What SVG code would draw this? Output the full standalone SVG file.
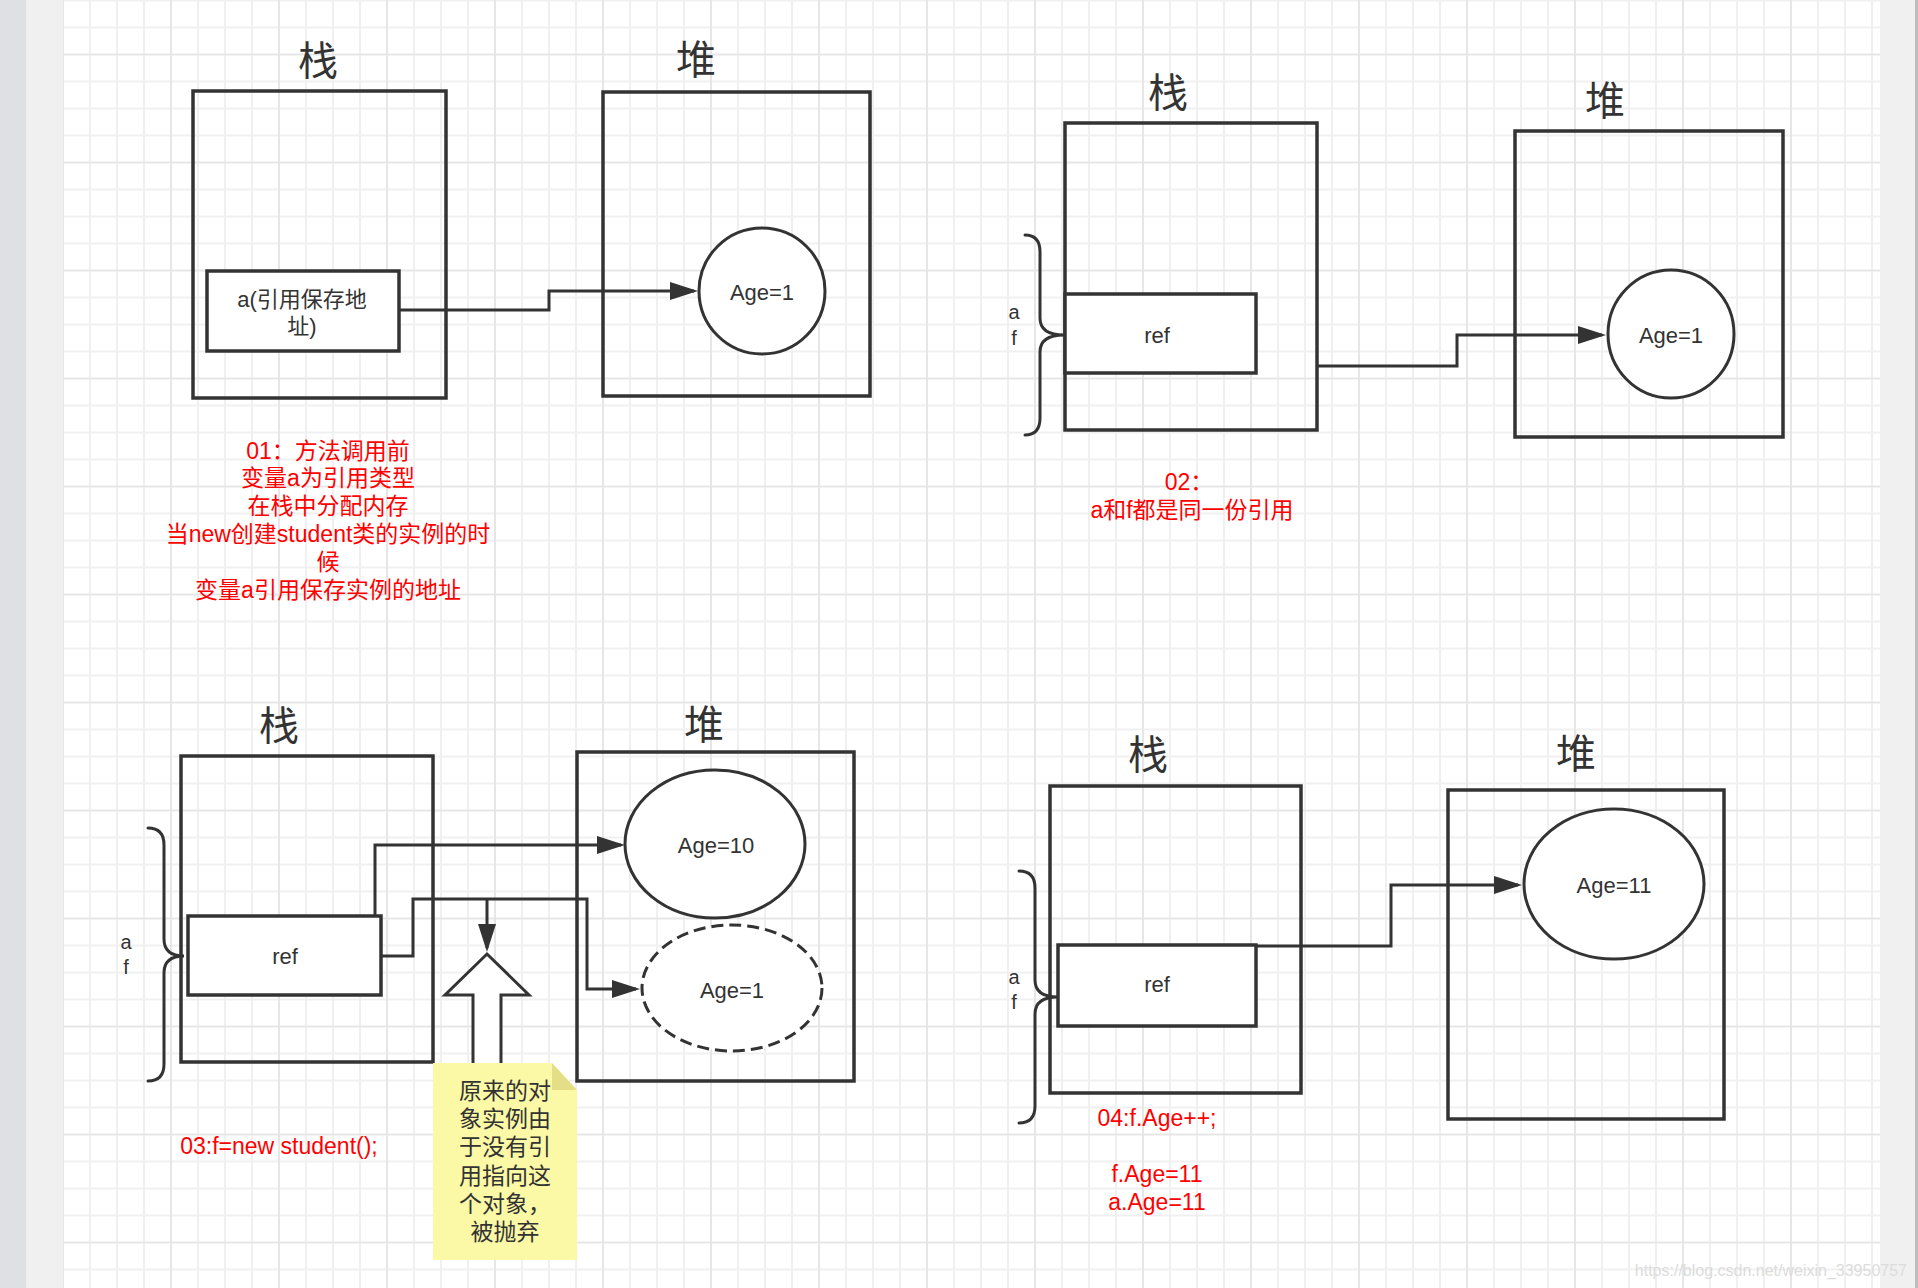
<svg xmlns="http://www.w3.org/2000/svg" width="1918" height="1288" viewBox="0 0 1918 1288">
<defs>
<style>
.box{fill:none;stroke:#333;stroke-width:3.5}
.inner{fill:#fff;stroke:#333;stroke-width:3.5}
.obj{fill:#fff;stroke:#333;stroke-width:3}
.dash{fill:#fff;stroke:#333;stroke-width:3;stroke-dasharray:12 6}
.conn{fill:none;stroke:#333;stroke-width:3;marker-end:url(#arr)}
.brace{fill:none;stroke:#333;stroke-width:3;stroke-linecap:round}
text{font-family:"Liberation Sans","Noto Sans CJK SC",sans-serif;text-anchor:middle;dominant-baseline:central}
.title{font-family:"Noto Sans CJK SC",sans-serif;font-size:40px;fill:#333}
.lbl{font-size:22px;fill:#333}
.af{font-size:20px;fill:#333}
.red{font-size:23px;fill:#ff0000}
.note{font-size:23px;fill:#333}
</style>
<marker id="arr" viewBox="0 0 28 18" refX="24" refY="9" markerWidth="28" markerHeight="18" markerUnits="userSpaceOnUse" orient="auto">
<path d="M0,0 L28,9 L0,18 z" fill="#333"/>
</marker>
<pattern id="grid" x="62" y="53.5" width="108" height="108" patternUnits="userSpaceOnUse">
<rect x="0" y="0" width="108" height="108" fill="#fff"/>
<rect x="27" y="0" width="2" height="108" fill="#f0f0f0"/>
<rect x="54" y="0" width="2" height="108" fill="#f0f0f0"/>
<rect x="81" y="0" width="2" height="108" fill="#f0f0f0"/>
<rect x="0" y="27" width="108" height="2" fill="#f0f0f0"/>
<rect x="0" y="54" width="108" height="2" fill="#f0f0f0"/>
<rect x="0" y="81" width="108" height="2" fill="#f0f0f0"/>
<rect x="0" y="0" width="2" height="108" fill="#e6e6e6"/>
<rect x="0" y="0" width="108" height="2" fill="#e6e6e6"/>
</pattern>
</defs>

<g id="background">
<rect x="0" y="0" width="1918" height="1288" fill="#f0f0f0"/>
<rect x="0" y="0" width="26" height="1288" fill="#dfe0e4"/>
<rect x="63" y="0" width="1817" height="1288" fill="url(#grid)"/>
<rect x="1915" y="0" width="3" height="1288" fill="#bdbdbd"/>
</g>

<!-- Panel 1 -->
<g id="p1-stack">
<text class="title" x="318" y="58">栈</text>
<rect class="box" x="193" y="91" width="253" height="307"/>
</g>
<g id="p1-heap">
<text class="title" x="696" y="57">堆</text>
<rect class="box" x="603" y="92" width="267" height="304"/>
</g>
<g id="p1-ref">
<rect class="inner" x="207" y="271" width="192" height="80"/>
<text class="lbl" x="302" y="299">a(引用保存地</text>
<text class="lbl" x="302" y="326">址)</text>
</g>
<g id="p1-obj">
<ellipse class="obj" cx="762" cy="291" rx="63" ry="63"/>
<text class="lbl" x="762" y="292">Age=1</text>
</g>
<g id="p1-note">
<text class="red" x="328" y="451">01：方法调用前</text>
<text class="red" x="328" y="478">变量a为引用类型</text>
<text class="red" x="328" y="506">在栈中分配内存</text>
<text class="red" x="328" y="534">当new创建student类的实例的时</text>
<text class="red" x="328" y="562">候</text>
<text class="red" x="328" y="590">变量a引用保存实例的地址</text>
</g>

<!-- Panel 2 -->
<g id="p2-stack">
<text class="title" x="1168" y="90">栈</text>
<rect class="box" x="1065" y="123" width="252" height="307"/>
</g>
<g id="p2-heap">
<text class="title" x="1605" y="98">堆</text>
<rect class="box" x="1515" y="131" width="268" height="306"/>
</g>
<g id="p2-ref">
<rect class="inner" x="1065" y="294" width="191" height="79"/>
<text class="lbl" x="1157" y="335">ref</text>
</g>
<g id="p2-brace">
<path class="brace" d="M1025,235 Q1040,235 1040,252 L1040,318 Q1040,335 1064,335 Q1040,335 1040,352 L1040,418 Q1040,435 1025,435"/>
<text class="af" x="1014" y="312">a</text>
<text class="af" x="1014" y="338">f</text>
</g>
<g id="p2-obj">
<ellipse class="obj" cx="1671" cy="334" rx="63" ry="64"/>
<text class="lbl" x="1671" y="335">Age=1</text>
</g>
<g id="p2-note">
<text class="red" x="1189" y="482">02：</text>
<text class="red" x="1192" y="510">a和f都是同一份引用</text>
</g>

<!-- Panel 3 -->
<g id="p3-stack">
<text class="title" x="279" y="723">栈</text>
<rect class="box" x="181" y="756" width="252" height="306"/>
</g>
<g id="p3-heap">
<text class="title" x="704" y="722">堆</text>
<rect class="box" x="577" y="752" width="277" height="329"/>
</g>
<g id="p3-ref">
<rect class="inner" x="188" y="916" width="193" height="79"/>
<text class="lbl" x="285" y="956">ref</text>
</g>
<g id="p3-brace">
<path class="brace" d="M148,828 Q164,828 164,845 L164,939 Q164,956 184,956 Q164,956 164,973 L164,1064 Q164,1081 148,1081"/>
<text class="af" x="126" y="942">a</text>
<text class="af" x="126" y="967">f</text>
</g>
<g id="p3-obj-new">
<ellipse class="obj" cx="715" cy="844" rx="90" ry="74"/>
<text class="lbl" x="716" y="845">Age=10</text>
</g>
<g id="p3-obj-old">
<ellipse class="dash" cx="732" cy="988" rx="90" ry="63"/>
<text class="lbl" x="732" y="990">Age=1</text>
</g>
<g id="p3-blockarrow">
<polygon points="487,954 529,995 501,995 501,1066 473,1066 473,995 445,995" fill="#fff" stroke="#333" stroke-width="3" stroke-linejoin="miter"/>
</g>
<g id="p3-sticky">
<polygon points="433,1063 552,1063 577,1090 577,1260 433,1260" fill="#fbf8a6"/>
<polygon points="552,1063 577,1090 552,1090" fill="#e4df86"/>
<text class="note" x="505" y="1091">原来的对</text>
<text class="note" x="505" y="1119">象实例由</text>
<text class="note" x="505" y="1147">于没有引</text>
<text class="note" x="505" y="1176">用指向这</text>
<text class="note" x="505" y="1204">个对象，</text>
<text class="note" x="505" y="1232">被抛弃</text>
</g>
<g id="p3-note">
<text class="red" x="279" y="1146">03:f=new student();</text>
</g>

<!-- Panel 4 -->
<g id="p4-stack">
<text class="title" x="1148" y="752">栈</text>
<rect class="box" x="1050" y="786" width="251" height="307"/>
</g>
<g id="p4-heap">
<text class="title" x="1576" y="751">堆</text>
<rect class="box" x="1448" y="790" width="276" height="329"/>
</g>
<g id="p4-ref">
<rect class="inner" x="1058" y="945" width="198" height="81"/>
<text class="lbl" x="1157" y="984">ref</text>
</g>
<g id="p4-brace">
<path class="brace" d="M1019,871 Q1035,871 1035,888 L1035,980 Q1035,997 1058,997 Q1035,997 1035,1014 L1035,1106 Q1035,1123 1019,1123"/>
<text class="af" x="1014" y="977">a</text>
<text class="af" x="1014" y="1002">f</text>
</g>
<g id="p4-obj">
<ellipse class="obj" cx="1614" cy="884" rx="90" ry="75"/>
<text class="lbl" x="1614" y="885">Age=11</text>
</g>
<g id="p4-note">
<text class="red" x="1157" y="1118">04:f.Age++;</text>
<text class="red" x="1157" y="1174">f.Age=11</text>
<text class="red" x="1157" y="1202">a.Age=11</text>
</g>

<g id="connectors">
<path class="conn" d="M399,310 H549 V291 H694"/>
<path class="conn" d="M1317,366 H1457 V335 H1602"/>
<path class="conn" d="M375,916 V845 H621"/>
<path class="conn" d="M381,956 H413 V899 H587 V989 H636"/>
<path class="conn" d="M487,899 V948"/>
<path class="conn" d="M1256,946 H1391 V885 H1518"/>
</g>

<g id="watermark">
<text x="1907" y="1270" style="font-size:16px;fill:#dcdcdc;text-anchor:end">https://blog.csdn.net/weixin_33950757</text>
</g>
</svg>
